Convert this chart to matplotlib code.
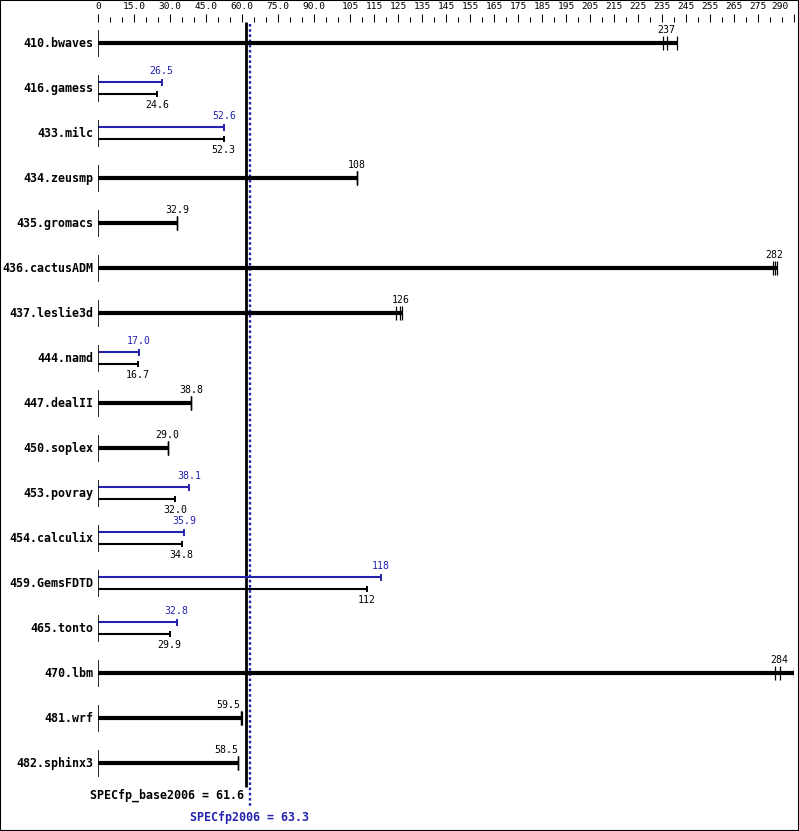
import matplotlib
matplotlib.use("Agg")
import matplotlib.pyplot as plt
import matplotlib.transforms as mtrans
from matplotlib.patches import Rectangle

names = ["410.bwaves", "416.gamess", "433.milc", "434.zeusmp", "435.gromacs",
         "436.cactusADM", "437.leslie3d", "444.namd", "447.dealII", "450.soplex",
         "453.povray", "454.calculix", "459.GemsFDTD", "465.tonto", "470.lbm",
         "481.wrf", "482.sphinx3"]
base = [237, 24.6, 52.3, 108, 32.9, 282, 126, 16.7, 38.8, 29.0,
        32.0, 34.8, 112, 29.9, 284, 59.5, 58.5]
# None -> peak equals base (one thick bar with the run ticks)
peak = [None, 26.5, 52.6, None, None, None, None, 17.0, None, None,
        38.1, 35.9, 118, 32.8, None, None, None]
runs = {
    "410.bwaves": [235.6, 237, 241.3],
    "434.zeusmp": [108, 108, 108],
    "435.gromacs": [32.9, 32.9, 32.9],
    "436.cactusADM": [281.4, 282, 282.8],
    "437.leslie3d": [124.2, 126, 126.6],
    "447.dealII": [38.8, 38.8, 38.8],
    "450.soplex": [29.0, 29.0, 29.0],
    "470.lbm": [282.1, 284, 290],
    "481.wrf": [59.4, 59.5, 60.1],
    "482.sphinx3": [58.5, 58.5, 58.5],
}
base_mean = 61.6
peak_mean = 63.3

major = [0, 15, 30, 45, 60, 75, 90] + list(range(105, 276, 10)) + [290]
major_labels = ["0"] + ["%.1f" % v for v in major[1:7]] + [str(v) for v in major[7:]]

BLUE = "#2323b0"
MONO = "DejaVu Sans Mono"


def fmt(v):
    return "%.0f" % v if v >= 100 else "%.1f" % v


fig = plt.figure(figsize=(7.99, 8.31), dpi=100)
fig.patches.append(Rectangle((0, 0), 1, 1, transform=fig.transFigure,
                             fill=False, edgecolor="black", lw=1.5))
ax = fig.add_axes([98 / 799, 0, 696 / 799, 809 / 831])
ax.set_xlim(0, 290)
ax.set_ylim(17.511, -0.4667)
for s in ax.spines.values():
    s.set_visible(False)

ax.xaxis.tick_top()
ax.set_xticks(major)
ax.set_xticklabels(major_labels, fontfamily=MONO, fontsize=6.8)
ax.set_xticks(range(0, 291, 5), minor=True)
ax.tick_params(axis="x", which="major", length=5.8, width=0.75, pad=2.0)
ax.tick_params(axis="x", which="minor", length=3.6, width=0.75)
ax.set_yticks([])
lbl = ax.get_xticklabels()[-1]
lbl.set_horizontalalignment("right")
lbl.set_transform(lbl.get_transform() + mtrans.ScaledTranslation(-5 / 100, 0, fig.dpi_scale_trans))

# mean lines
ax.vlines(base_mean, -0.47, 16.53, color="black", lw=2.0, zorder=1)
ax.vlines(peak_mean, -0.43, 16.98, color=BLUE, lw=1.7, linestyles=(0, (1.1, 1.1)), zorder=1)

for i, name in enumerate(names):
    ax.text(-2.0, i, name, ha="right", va="center", fontfamily=MONO,
            fontweight="bold", fontsize=8.4, clip_on=False)
    ax.vlines(0, i - 0.3, i + 0.3, color="black", lw=1.2, zorder=3)
    b = base[i]
    p = peak[i]
    if p is None:
        r = runs[name]
        ax.hlines(i, 0, max(r), color="black", lw=3.0, zorder=2)
        ax.vlines(r, i - 0.155, i + 0.155, color="black", lw=0.9, zorder=3)
        ha = "right" if abs(b - base_mean) < 8 else "center"
        ax.text(b, i - 0.17, fmt(b), ha=ha, va="bottom",
                fontfamily=MONO, fontsize=7.1, color="black")
    else:
        yb, yk = i - 0.13, i + 0.135
        ax.hlines(yb, 0, p, color=BLUE, lw=1.5, zorder=2)
        ax.vlines(p, yb - 0.075, yb + 0.075, color=BLUE, lw=1.4, zorder=3)
        ax.hlines(yk, 0, b, color="black", lw=1.5, zorder=2)
        ax.vlines(b, yk - 0.075, yk + 0.075, color="black", lw=1.4, zorder=3)
        ax.text(p, yb - 0.14, fmt(p), ha="center", va="bottom",
                fontfamily=MONO, fontsize=7.1, color=BLUE)
        ax.text(b, yk + 0.14, fmt(b), ha="center", va="top",
                fontfamily=MONO, fontsize=7.1, color="black")

ax.text(base_mean - 0.6, 16.71, "SPECfp_base2006 = %.1f" % base_mean, ha="right", va="center",
        fontfamily=MONO, fontweight="bold", fontsize=8.4, color="black", clip_on=False)
ax.text(peak_mean, 17.22, "SPECfp2006 = %.1f" % peak_mean, ha="center", va="center",
        fontfamily=MONO, fontweight="bold", fontsize=8.4, color=BLUE, clip_on=False)

fig.savefig("out.png", dpi=100)
